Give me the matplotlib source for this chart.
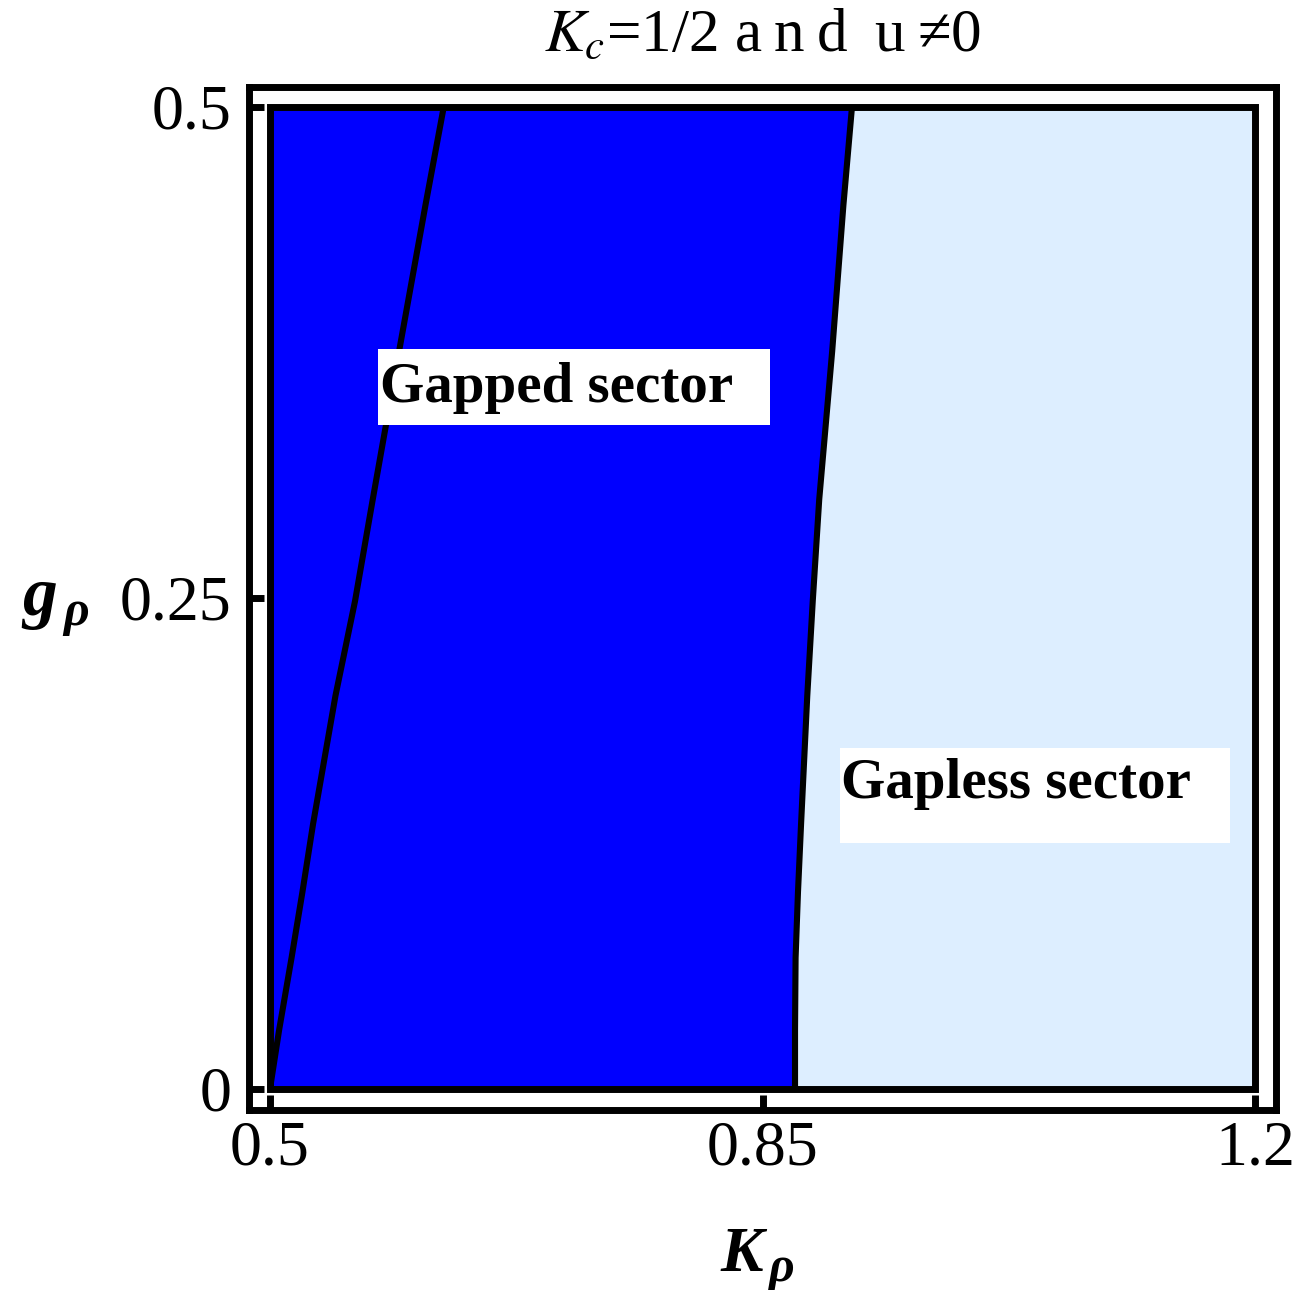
import matplotlib
matplotlib.use("Agg")
import matplotlib.pyplot as plt
from matplotlib.patches import Rectangle

# ---- data ----
g_rho = [0.0, 0.03, 0.0666, 0.1, 0.1348, 0.2, 0.2482, 0.3, 0.3754, 0.45, 0.5]
k_left = [0.5, 0.5065, 0.5153, 0.523, 0.5306, 0.5465, 0.5604, 0.573, 0.5917, 0.6105, 0.6235]
k_right = [0.8731, 0.8731, 0.8735, 0.8752, 0.8774, 0.8818, 0.8857, 0.8903, 0.8995, 0.9075, 0.9136]

x_range = (0.5, 1.2)
y_range = (0.0, 0.5)
xticks = [0.5, 0.85, 1.2]
xticklabels = ["0.5", "0.85", "1.2"]
yticks = [0.0, 0.25, 0.5]
yticklabels = ["0", "0.25", "0.5"]

label_gapped = "Gapped sector"
label_gapless = "Gapless sector"
title = "$K_c$=1/2 a\u2009n\u2009d\u2009 u\u2009\u22600"

# ---- style ----
plt.rcParams["font.family"] = ["Liberation Serif", "DejaVu Serif"]
plt.rcParams["mathtext.fontset"] = "stix"

BLUE = "#0000ff"
LIGHT = "#ddeeff"
LW = 5.0

fig = plt.figure(figsize=(12.95, 12.9), dpi=100)
ax = fig.add_axes([0.1919, 0.1399, 0.7934, 0.7930])
ax.set_xlim(0.4847, 1.2149)
ax.set_ylim(-0.0107, 0.5102)

# regions
ax.fill_betweenx(g_rho, x_range[0], k_right, color=BLUE, lw=0, zorder=1)
ax.fill_betweenx(g_rho, k_right, x_range[1], color=LIGHT, lw=0, zorder=1)

# boundary curves
ax.plot(k_left, g_rho, color="black", lw=4.4, solid_capstyle="butt",
        solid_joinstyle="round", zorder=3)
ax.plot(k_right, g_rho, color="black", lw=4.4, solid_capstyle="butt",
        solid_joinstyle="round", zorder=3)

# inner plot-range frame
ax.add_patch(Rectangle((x_range[0], y_range[0]), x_range[1] - x_range[0],
                       y_range[1] - y_range[0], fill=False, ec="black",
                       lw=LW, joinstyle="miter", zorder=4))

# labels in white boxes
ax.add_patch(Rectangle((0.5768, 0.3379), 0.8554 - 0.5768, 0.3765 - 0.3379,
                       fc="white", ec="none", zorder=5))
ax.text(0.5782, 0.3495, label_gapped, fontsize=41, fontweight="bold",
        ha="left", va="baseline", zorder=6)
ax.add_patch(Rectangle((0.9051, 0.1250), 1.1823 - 0.9051, 0.1734 - 0.1250,
                       fc="white", ec="none", zorder=5))
ax.text(0.9058, 0.1479, label_gapless, fontsize=41, fontweight="bold",
        ha="left", va="baseline", zorder=6)

# axes frame and ticks
for sp in ax.spines.values():
    sp.set_linewidth(LW)
    sp.set_capstyle("projecting")
ax.set_xticks(xticks)
ax.set_xticklabels(xticklabels)
ax.set_yticks(yticks)
ax.set_yticklabels(yticklabels)
ax.tick_params(direction="in", length=10.5, width=LW, labelsize=46,
               top=False, right=False)
ax.tick_params(axis="x", pad=8)
ax.tick_params(axis="y", pad=12)

ax.set_title(title, fontsize=44, pad=26)

# axis labels (bold italic with subscript rho)
fig.text(720 / 1295, 1 - 1271 / 1290, "K", fontsize=46, fontweight="bold",
         fontstyle="italic", ha="left", va="baseline")
fig.text(768 / 1295, 1 - 1281 / 1290, "\u03c1", fontsize=36, fontweight="bold",
         fontstyle="italic", ha="left", va="baseline")
fig.text(22 / 1295, 1 - 615 / 1290, "g", fontsize=50, fontweight="bold",
         fontstyle="italic", ha="left", va="baseline")
fig.text(63 / 1295, 1 - 625 / 1290, "\u03c1", fontsize=36, fontweight="bold",
         fontstyle="italic", ha="left", va="baseline")

fig.savefig("out.png", dpi=100)
